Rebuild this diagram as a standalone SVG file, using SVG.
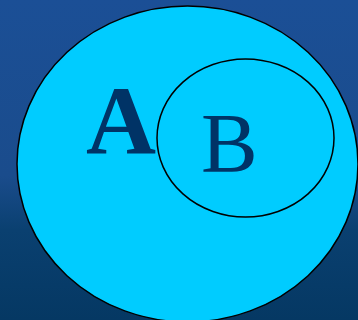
<svg xmlns="http://www.w3.org/2000/svg" width="358" height="320" viewBox="0 0 358 320">
<defs>
<linearGradient id="bg" x1="0" y1="0" x2="0" y2="1">
<stop offset="0" stop-color="#1B4F96"/>
<stop offset="0.55" stop-color="#1A4C8C"/>
<stop offset="0.72" stop-color="#0A4070"/>
<stop offset="1" stop-color="#053863"/>
</linearGradient>
<style>
.set{fill:#00CCFF;stroke:#000;stroke-width:1.5}
.inner{fill:none;stroke:#000;stroke-width:1.5}
.lbl{fill:#003366;font-family:"Liberation Serif","Times New Roman",serif}
</style>
</defs>
<rect width="358" height="320" fill="url(#bg)"/>
<g id="setA">
<ellipse class="set" cx="187.5" cy="164" rx="170.5" ry="158"/>
<text class="lbl" x="86" y="153" font-size="97" font-weight="bold">A</text>
</g>
<g id="setB">
<ellipse class="inner" cx="245.5" cy="138" rx="88.5" ry="79"/>
<text class="lbl" x="201" y="172" font-size="85">B</text>
</g>
<g id="connectors"/>
</svg>
